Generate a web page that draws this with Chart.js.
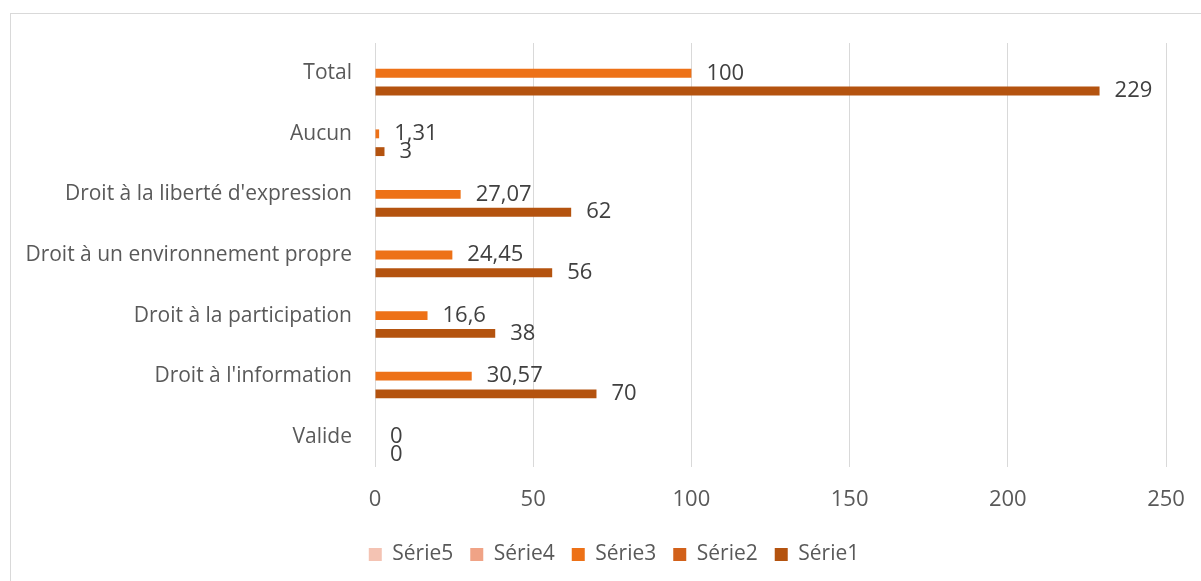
<!DOCTYPE html>
<html>
<head>
<meta charset="utf-8">
<script src="https://cdn.jsdelivr.net/npm/chart.js@4.4.0/dist/chart.umd.min.js"></script>
<style>
  html, body { margin: 0; padding: 0; background: #fff; overflow: hidden; }
  #frame { position: absolute; left: 10px; top: 13px; width: 1300px; height: 700px;
           border-left: 1px solid #d9d9d9; border-top: 1px solid #d9d9d9; }
  #wrap { position: absolute; left: 0; top: 0; width: 1229px; height: 581px; }
</style>
</head>
<body>
<div id="frame"></div>
<div id="wrap"><canvas id="chart"></canvas></div>
<script>
const categories = ['Total', 'Aucun', "Droit à la liberté d'expression", 'Droit à un environnement propre',
    'Droit à la participation', "Droit à l'information", 'Valide'];
const serie1 = [229, 3, 62, 56, 38, 70, 0];
const serie2 = [null, null, null, null, null, null, null];
const serie3 = [100, 1.31, 27.07, 24.45, 16.6, 30.57, 0];
const serie4 = [null, null, null, null, null, null, null];
const serie5 = [null, null, null, null, null, null, null];
const xTicks = [0, 50, 100, 150, 200, 250];

Chart.defaults.font.family = "'Open Sans', sans-serif";
Chart.defaults.color = '#595959';

// étiquettes de valeurs à droite des barres
const valueLabels = {
    id: 'valueLabels',
    afterDatasetsDraw(chart) {
        const ctx = chart.ctx;
        ctx.save();
        ctx.font = "22px 'Open Sans', sans-serif";
        ctx.fillStyle = '#404040';
        ctx.textAlign = 'left';
        ctx.textBaseline = 'middle';
        chart.data.datasets.forEach((ds, i) => {
            const meta = chart.getDatasetMeta(i);
            meta.data.forEach((bar, j) => {
                const v = ds.data[j];
                if (v === null || v === undefined) return;
                ctx.fillText(String(v).replace('.', ','), bar.x + 15, bar.y);
            });
        });
        ctx.restore();
    }
};

// légende centrée sur le cadre entier, pas seulement sur la zone de tracé
const legendShift = {
    id: 'legendShift',
    afterLayout(chart) {
        chart.legend.left += 31;
        chart.legend.right += 31;
    }
};

new Chart(document.getElementById('chart'), {
    type: 'bar',
    data: {
        labels: categories,
        datasets: [
            { label: 'Série5', data: serie5, backgroundColor: '#F4C3B3' },
            { label: 'Série4', data: serie4, backgroundColor: '#F0A386' },
            { label: 'Série3', data: serie3, backgroundColor: '#ED7117' },
            { label: 'Série2', data: serie2, backgroundColor: '#D2611A' },
            { label: 'Série1', data: serie1, backgroundColor: '#B4530F' }
        ]
    },
    options: {
        indexAxis: 'y',
        responsive: true,
        maintainAspectRatio: false,
        animation: false,
        datasets: {
            bar: { barPercentage: 1, categoryPercentage: 0.733 }
        },
        layout: { padding: { top: 43, right: 63, bottom: 6, left: 0 } },
        scales: {
            x: {
                min: 0,
                max: 250,
                afterBuildTicks: scale => { scale.ticks = xTicks.map(v => ({ value: v })); },
                afterFit: scale => { scale.height = 60; },
                grid: { color: '#d9d9d9', drawTicks: false },
                border: { display: false },
                ticks: { padding: 20, font: { size: 22 }, color: '#595959' }
            },
            y: {
                afterFit: scale => { scale.width = 375; },
                grid: { display: false },
                border: { display: false },
                ticks: { padding: 15, font: { size: 21 }, color: '#595959' }
            }
        },
        plugins: {
            legend: {
                position: 'bottom',
                labels: { boxWidth: 13, boxHeight: 13, padding: 17, font: { size: 21 }, color: '#595959' }
            },
            tooltip: { enabled: false }
        }
    },
    plugins: [valueLabels, legendShift]
});
</script>
</body>
</html>
